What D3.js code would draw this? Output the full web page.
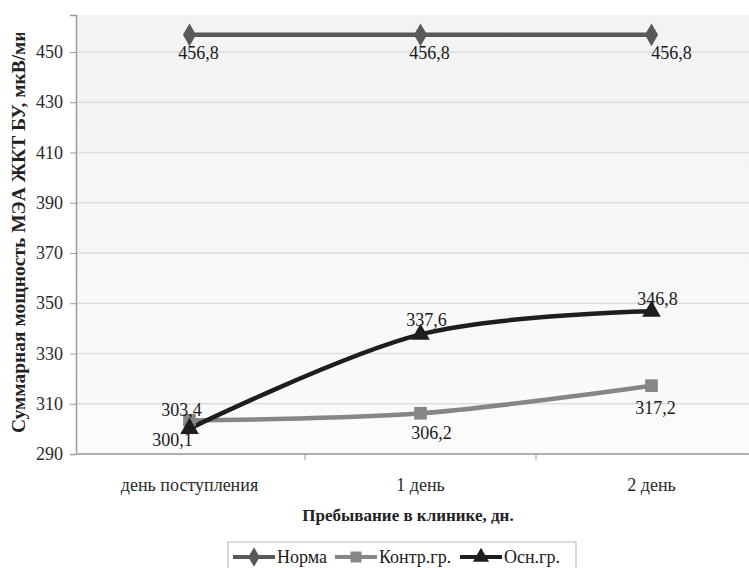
<!DOCTYPE html>
<html>
<head>
<meta charset="utf-8">
<script src="https://cdn.jsdelivr.net/npm/d3@7"></script>
<style>
  html, body { margin: 0; padding: 0; background: #fff; }
  svg text { font-family: "Liberation Serif", "Times New Roman", "DejaVu Serif", serif; }
</style>
</head>
<body>
<svg id="chart" width="749" height="568"></svg>
<script>
// Chart data
const categories = ["день поступления", "1 день", "2 день"];
const normaValues = [456.8, 456.8, 456.8];
const controlValues = [303.4, 306.2, 317.2];
const mainValues = [300.1, 337.6, 346.8];
const yTicks = [290, 310, 330, 350, 370, 390, 410, 430, 450];
const seriesNames = ["Норма", "Контр.гр.", "Осн.гр."];
const yTitle = "Суммарная мощность МЭА ЖКТ БУ, мкВ/мин";
const xTitle = "Пребывание в клинике, дн.";

const FONT = "Liberation Serif, Times New Roman, DejaVu Serif, serif";
const svg = d3.select("#chart").attr("font-family", FONT);
const W = 749, H = 568;
const plot = { left: 76, top: 15, bottom: 454 };

const x = d3.scalePoint().domain(categories).range([74, 767]).padding(0.5);
const y = d3.scaleLinear().domain([290, 464.7]).range([plot.bottom, plot.top]);

// plot background and clips
const defs = svg.append("defs");
const grad = defs.append("linearGradient").attr("id", "bg").attr("x1", 0).attr("y1", 0).attr("x2", 0).attr("y2", 1);
grad.append("stop").attr("offset", "0%").attr("stop-color", "#f3f3f3");
grad.append("stop").attr("offset", "100%").attr("stop-color", "#fbfbfb");
defs.append("clipPath").attr("id", "plotClip").append("rect")
  .attr("x", plot.left).attr("y", plot.top - 10).attr("width", W - plot.left).attr("height", plot.bottom - plot.top + 20);
defs.append("clipPath").attr("id", "ytClip").append("rect")
  .attr("x", 0).attr("y", 33).attr("width", 40).attr("height", 500);

svg.append("rect").attr("x", plot.left).attr("y", plot.top)
  .attr("width", W - plot.left).attr("height", plot.bottom - plot.top)
  .attr("fill", "url(#bg)");

// gridlines
svg.append("g").selectAll("line").data(yTicks.slice(1)).join("line")
  .attr("x1", plot.left).attr("x2", W)
  .attr("y1", d => y(d)).attr("y2", d => y(d))
  .attr("stroke", "#dedede").attr("stroke-width", 1.5);

// y axis
const yAxis = svg.append("g").attr("transform", `translate(${plot.left},0)`)
  .call(d3.axisLeft(y).tickValues(yTicks).tickSize(6).tickPadding(7).tickFormat(d3.format("d")));
yAxis.attr("font-family", FONT).attr("font-size", 18);
yAxis.select(".domain").attr("stroke", "#9a9a9a").attr("stroke-width", 1.5);
yAxis.selectAll(".tick line").attr("stroke", "#9a9a9a");
yAxis.selectAll(".tick text").attr("fill", "#2a2a2a");

// x axis
const xAxisG = svg.append("g").attr("transform", `translate(0,${plot.bottom})`);
xAxisG.append("line").attr("x1", plot.left).attr("x2", W).attr("y1", 0).attr("y2", 0)
  .attr("stroke", "#b0b0b0").attr("stroke-width", 2);
const step = x.step();
xAxisG.selectAll("line.tk").data(categories.slice(0, -1)).join("line").attr("class", "tk")
  .attr("x1", d => x(d) + step / 2).attr("x2", d => x(d) + step / 2)
  .attr("y1", 0).attr("y2", 6).attr("stroke", "#9a9a9a");
xAxisG.selectAll("text").data(categories).join("text")
  .attr("x", d => x(d)).attr("y", 37).attr("text-anchor", "middle")
  .attr("font-size", 18).attr("fill", "#2a2a2a").text(d => d);

// axis titles
svg.append("text").attr("x", 408).attr("y", 521).attr("text-anchor", "middle")
  .attr("font-weight", "bold").attr("font-size", 17).attr("fill", "#222").text(xTitle);
svg.append("g").attr("clip-path", "url(#ytClip)")
  .append("text").attr("transform", "translate(25,433) rotate(-90)")
  .attr("text-anchor", "start").attr("font-weight", "bold").attr("font-size", 19.5)
  .attr("fill", "#222").text(yTitle);

// series
const series = [
  { name: seriesNames[0], values: normaValues, color: "#595959", shape: d3.symbolDiamond, size: 150 },
  { name: seriesNames[1], values: controlValues, color: "#868686", shape: d3.symbolSquare, size: 160 },
  { name: seriesNames[2], values: mainValues, color: "#1e1e1e", shape: d3.symbolTriangle, size: 150 }
];

const line = d3.line().x((d, i) => x(categories[i])).y(d => y(d)).curve(d3.curveCardinal.tension(0));

const lines = svg.append("g").attr("clip-path", "url(#plotClip)");
series.forEach(s => {
  lines.append("path").datum(s.values).attr("d", line)
    .attr("fill", "none").attr("stroke", s.color).attr("stroke-width", 4.5);
});
series.forEach(s => {
  lines.append("g").selectAll("path").data(s.values).join("path")
    .attr("transform", (d, i) => `translate(${x(categories[i])},${y(d)})`)
    .attr("d", d3.symbol().type(s.shape).size(s.size)).attr("fill", s.color);
});

// value labels (baseline offsets in px from each marker)
const fmt = v => d3.format(".1f")(v).replace(".", ",");
const labelOffsets = [
  [[9, 24], [9, 24], [20, 24]],
  [[-8, -4], [11, 26], [4, 28]],
  [[-17, 17], [6, -8], [6, -6]]
];
const labels = svg.append("g").attr("font-size", 18).attr("fill", "#1a1a1a").attr("text-anchor", "middle");
series.forEach((s, si) => {
  s.values.forEach((v, i) => {
    labels.append("text")
      .attr("x", x(categories[i]) + labelOffsets[si][i][0])
      .attr("y", y(v) + labelOffsets[si][i][1])
      .text(fmt(v));
  });
});

// legend
const lg = svg.append("g").attr("transform", "translate(228,542)");
lg.append("rect").attr("x", 0).attr("y", 0).attr("width", 348).attr("height", 28)
  .attr("fill", "#fff").attr("stroke", "#b5b5b5");
const legendX = [5, 107, 232];
series.forEach((s, i) => {
  const g = lg.append("g").attr("transform", `translate(${legendX[i]},15)`);
  g.append("line").attr("x1", 0).attr("x2", 42).attr("stroke", s.color).attr("stroke-width", 4);
  g.append("path").attr("transform", "translate(21,0)")
    .attr("d", d3.symbol().type(s.shape).size(s.size * 0.75)).attr("fill", s.color);
  g.append("text").attr("x", 44).attr("y", 6).attr("font-size", 18).attr("fill", "#1a1a1a").text(s.name);
});
</script>
</body>
</html>
